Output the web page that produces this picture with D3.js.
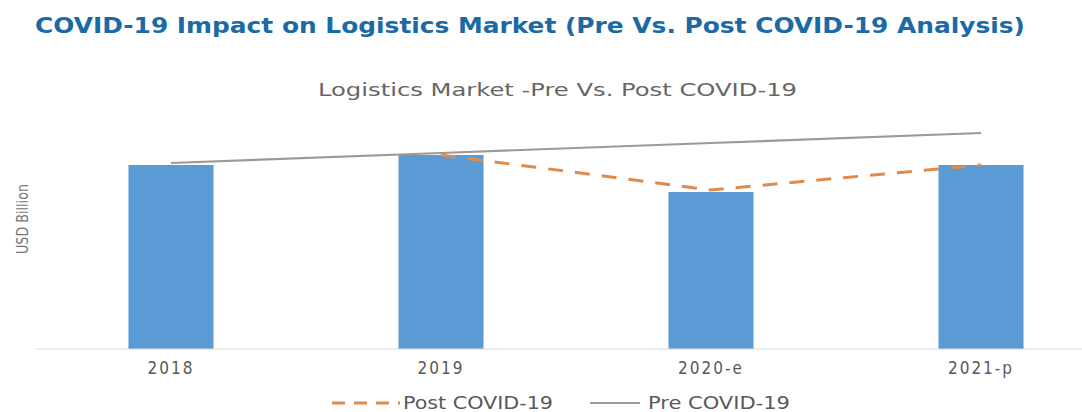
<!DOCTYPE html>
<html lang="en">
<head>
    <meta charset="UTF-8">
    <title>Logistics Market - Pre Vs. Post COVID-19</title>
    <script src="https://d3js.org/d3.v7.min.js"></script>
    <style>
        body { margin: 0; background: #fff; }
        text { font-family: "DejaVu Sans Condensed", "Liberation Sans", Arial, sans-serif; }
    </style>
</head>
<body>
    <div id="chart"></div>
    <script>
        // data (no axis values shown, units are arbitrary)
        const years = ["2018", "2019", "2020-e", "2021-p"];
        const barValues = [184, 194, 157, 184];
        const preCovid = [186, 196, 206, 216];
        const postCovid = [null, 194, 159, 184];

        const width = 1082;
        const height = 412;

        const svg = d3.select("#chart")
            .append("svg")
            .attr("width", width)
            .attr("height", height);

        // scales
        const xScale = d3.scaleBand()
            .domain(years)
            .range([36, 1116])
            .paddingInner(0.685)
            .paddingOuter(0.3425);

        const yScale = d3.scaleLinear()
            .domain([0, 200])
            .range([349, 149]);

        const cx = d => xScale(d) + xScale.bandwidth() / 2;

        // main title
        svg.append("text")
            .attr("x", 35)
            .attr("y", 33)
            .attr("textLength", 990)
            .attr("lengthAdjust", "spacingAndGlyphs")
            .style("font-size", "21px")
            .style("font-weight", "bold")
            .style("fill", "#1b6aa5")
            .text("COVID-19 Impact on Logistics Market (Pre Vs. Post COVID-19 Analysis)");

        // chart title
        svg.append("text")
            .attr("x", 318)
            .attr("y", 96)
            .attr("textLength", 479)
            .attr("lengthAdjust", "spacingAndGlyphs")
            .style("font-size", "18px")
            .style("fill", "#666")
            .text("Logistics Market -Pre Vs. Post COVID-19");

        // y axis title
        svg.append("text")
            .attr("transform", "translate(28,219) rotate(-90)")
            .attr("text-anchor", "middle")
            .attr("textLength", 70)
            .attr("lengthAdjust", "spacingAndGlyphs")
            .style("font-size", "15px")
            .style("fill", "#777")
            .text("USD Billion");

        // bars
        svg.selectAll(".bar")
            .data(years)
            .enter()
            .append("rect")
            .attr("class", "bar")
            .attr("x", d => xScale(d))
            .attr("width", xScale.bandwidth())
            .attr("y", (d, i) => yScale(barValues[i]))
            .attr("height", (d, i) => yScale(0) - yScale(barValues[i]))
            .attr("fill", "#5b9bd5");

        // x axis (baseline + labels)
        const xAxis = d3.axisBottom(xScale).tickSize(0).tickPadding(13);
        const gx = svg.append("g")
            .attr("transform", `translate(0,${yScale(0)})`)
            .call(xAxis);
        gx.select(".domain").remove();
        gx.append("line")
            .attr("x1", 36)
            .attr("x2", width)
            .attr("stroke", "#d9d9d9")
            .attr("stroke-width", 1.2);
        gx.selectAll(".tick text")
            .style("font-family", "'DejaVu Sans Condensed', 'Liberation Sans', sans-serif")
            .style("font-size", "17px")
            .style("letter-spacing", "2px")
            .style("fill", "#595959");

        const line = d3.line()
            .defined(d => d != null)
            .x((d, i) => cx(years[i]))
            .y(d => yScale(d));

        // post covid (dashed) under pre covid
        svg.append("path")
            .datum(postCovid)
            .attr("d", line)
            .attr("fill", "none")
            .attr("stroke", "#e08a4c")
            .attr("stroke-width", 3)
            .attr("stroke-dasharray", "15,12");

        svg.append("path")
            .datum(preCovid)
            .attr("d", line)
            .attr("fill", "none")
            .attr("stroke", "#9a9a9a")
            .attr("stroke-width", 2.2);

        // legend
        const legend = svg.append("g").attr("transform", "translate(0,403)");
        legend.append("line")
            .attr("x1", 332).attr("x2", 400)
            .attr("stroke", "#e08a4c")
            .attr("stroke-width", 3)
            .attr("stroke-dasharray", "13,9");
        legend.append("text")
            .attr("x", 403).attr("y", 6)
            .attr("textLength", 150)
            .attr("lengthAdjust", "spacingAndGlyphs")
            .style("font-size", "17px")
            .style("fill", "#595959")
            .text("Post COVID-19");
        legend.append("line")
            .attr("x1", 590).attr("x2", 640)
            .attr("stroke", "#9a9a9a")
            .attr("stroke-width", 2);
        legend.append("text")
            .attr("x", 648).attr("y", 6)
            .attr("textLength", 142)
            .attr("lengthAdjust", "spacingAndGlyphs")
            .style("font-size", "17px")
            .style("fill", "#595959")
            .text("Pre COVID-19");
    </script>
</body>
</html>
